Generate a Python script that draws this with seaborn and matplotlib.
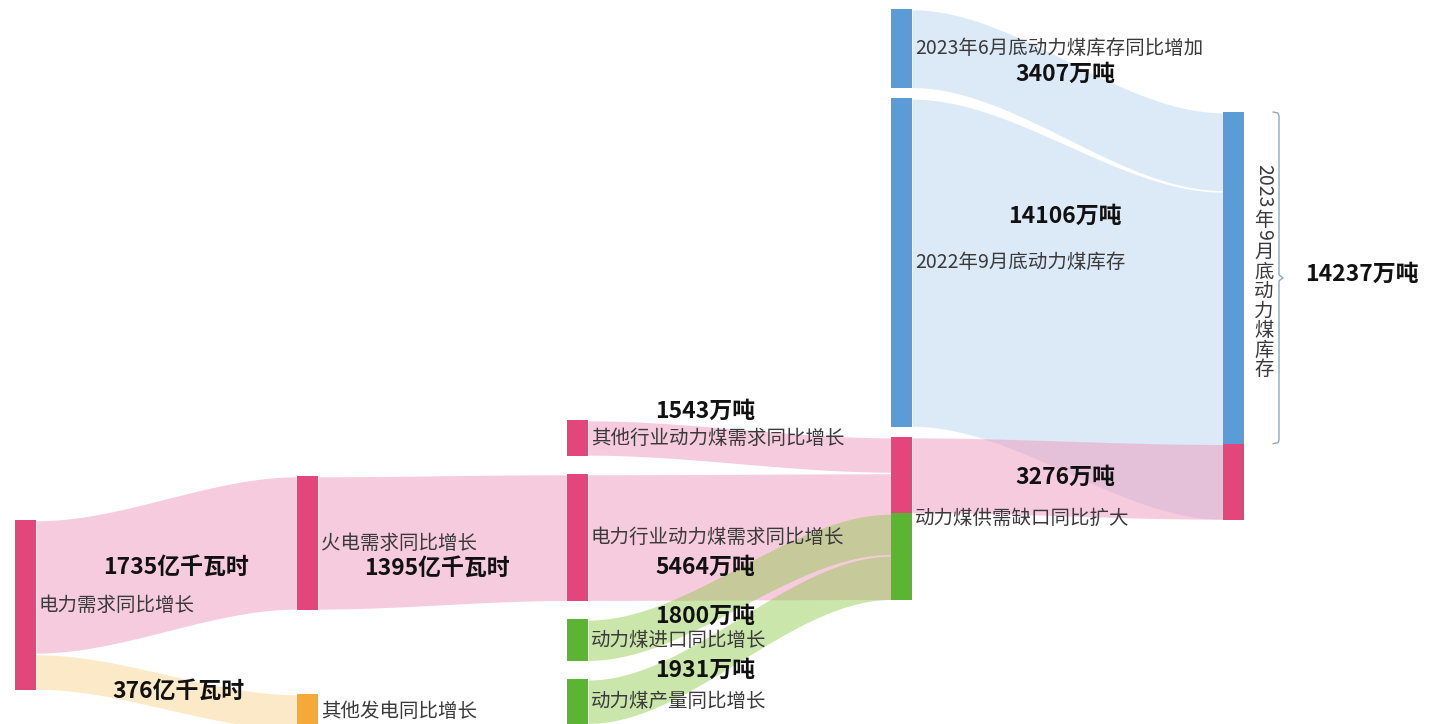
import re
import numpy as np
import matplotlib
matplotlib.use("Agg")
import matplotlib.pyplot as plt
import seaborn as sns

sns.set_theme(style="white")
plt.rcParams['font.family'] = ['Noto Sans CJK SC', 'DejaVu Sans']

# ---- data ----
node_names = ["电力需求同比增长", "火电需求同比增长", "其他发电同比增长",
              "其他行业动力煤需求同比增长", "电力行业动力煤需求同比增长",
              "动力煤进口同比增长", "动力煤产量同比增长",
              "2023年6月底动力煤库存同比增加", "2022年9月底动力煤库存",
              "动力煤供需缺口同比扩大", "2023年9月底动力煤库存"]
node_cols = [0, 1, 1, 2, 2, 2, 2, 3, 3, 3, 4]
node_groups = ["pink", "pink", "orange", "pink", "pink", "green", "green",
               "blue", "blue", "pink", "blue"]

link_src = [0, 0, 1, 3, 4, 5, 6, 7, 8, 9]
link_tgt = [1, 2, 4, 9, 9, 9, 9, 10, 10, 10]
link_out = [1395, 376, 1395, 1543, 5464, 1800, 1931, 3407, 14106, 3276]
link_in = [1395, 376, 5464, 1543, 5464, 1800, 1931, 3407, 14106, 3276]
link_unit_out = ["亿千瓦时"] * 3 + ["万吨"] * 7
link_unit_in = ["亿千瓦时"] * 2 + ["万吨"] * 8
# -1: subtracted from the target (drawn from the bottom of the node)
link_sign = [1, 1, 1, 1, 1, -1, -1, 1, 1, -1]

value_labels = ["1735亿千瓦时", "1395亿千瓦时", "376亿千瓦时", "1543万吨", "5464万吨",
                "1800万吨", "1931万吨", "3407万吨", "14106万吨", "3276万吨"]
total_label = "14237万吨"

# ---- style / layout ----
node_color = {"pink": "#E3467A", "orange": "#F3AA38", "green": "#5BB432", "blue": "#5C9CD6"}
band_style = {"pink": ("#EF99BD", 0.5), "orange": ("#F7B847", 0.3),
              "green": ("#8CC846", 0.45), "blue": ("#5B9BD5", 0.21)}
px_per = {"亿千瓦时": 0.096, "万吨": 0.0233}
col_x = [15, 297, 567, 891, 1223]
col_top = [520, 476, 420, 9, 112]
col_gap = [0, 84, 18, 10, 0]
node_w = 21
label_pos = [(176, 567), (437, 568), (178, 691), (705, 411), (705, 567),
             (705, 616), (705, 670), (1065, 74), (1065, 216), (1065, 477)]

fig = plt.figure(figsize=(14.35, 7.24), dpi=100)
ax = fig.add_axes([0, 0, 1, 1])
ax.set_xlim(0, 1435)
ax.set_ylim(724, 0)
ax.axis("off")

n = len(node_names)
L = len(link_src)
h_in = np.zeros(n)
h_out = np.zeros(n)
for k in range(L):
    h_out[link_src[k]] += link_out[k] * px_per[link_unit_out[k]]
    if link_sign[k] > 0:
        h_in[link_tgt[k]] += link_in[k] * px_per[link_unit_in[k]]
node_h = np.maximum(h_in, h_out)

node_y = np.zeros(n)
for c in range(len(col_x)):
    y = col_top[c]
    for i in range(n):
        if node_cols[i] == c:
            node_y[i] = y
            y += node_h[i] + col_gap[c]

# link end positions
src_pos = [None] * L
tgt_pos = [None] * L
cur_out = node_y.copy()
cur_in = node_y.copy()
cur_neg = node_y + node_h
for k in range(L):
    hs = link_out[k] * px_per[link_unit_out[k]]
    src_pos[k] = (cur_out[link_src[k]], cur_out[link_src[k]] + hs)
    cur_out[link_src[k]] += hs
    if link_sign[k] > 0:
        ht = link_in[k] * px_per[link_unit_in[k]]
        t = link_tgt[k]
        tgt_pos[k] = (cur_in[t], cur_in[t] + ht)
        cur_in[t] += ht
for k in reversed(range(L)):
    if link_sign[k] < 0:
        ht = link_in[k] * px_per[link_unit_in[k]]
        t = link_tgt[k]
        tgt_pos[k] = (cur_neg[t] - ht, cur_neg[t])
        cur_neg[t] -= ht


def band(x0, x1, top0, bot0, top1, bot1, color, alpha):
    xs = np.linspace(x0, x1, 200)
    t = (xs - x0) / (x1 - x0)
    s = t * t * (3 - 2 * t)
    top = top0 + (top1 - top0) * s
    bot = bot0 + (bot1 - bot0) * s
    ax.fill_between(xs, top + 0.8, bot - 0.8, color=color, alpha=alpha, lw=0, zorder=1)


for k in range(L):
    s, t = link_src[k], link_tgt[k]
    # bands take the colour of the node they feed, subtractions keep their own colour
    grp = node_groups[s] if link_sign[k] < 0 else node_groups[t]
    col, a = band_style[grp]
    band(col_x[node_cols[s]] + node_w, col_x[node_cols[t]],
         src_pos[k][0], src_pos[k][1], tgt_pos[k][0], tgt_pos[k][1], col, a)

# nodes
for i in range(n):
    ax.add_patch(plt.Rectangle((col_x[node_cols[i]], node_y[i]), node_w, node_h[i],
                               color=node_color[node_groups[i]], lw=0, zorder=3))
for k in range(L):
    if link_sign[k] < 0:
        t = link_tgt[k]
        y0, y1 = tgt_pos[k]
        ax.add_patch(plt.Rectangle((col_x[node_cols[t]], y0), node_w, y1 - y0,
                                   color=node_color[node_groups[link_src[k]]], lw=0, zorder=4))

# node names
name_kw = dict(fontsize=14, color="#3a3a3a", va="center", ha="left", zorder=6)
last = n - 1
for i in range(n - 1):
    ax.text(col_x[node_cols[i]] + node_w + 3, node_y[i] + node_h[i] / 2, node_names[i], **name_kw)

# final node: vertical text beside the positive part + bracket
neg_h = sum(link_in[k] * px_per[link_unit_in[k]] for k in range(L)
            if link_tgt[k] == last and link_sign[k] < 0)
b_top = node_y[last]
b_bot = node_y[last] + node_h[last] - neg_h
b_mid = (b_top + b_bot) / 2
xr = col_x[4] + node_w


def vertical_text(x, yc, s, size, color):
    runs = re.findall(r"[0-9]+|[^0-9]", s)
    em = size * 100 / 72
    adv = [len(r) * 0.56 * em + 2 if r.isdigit() else 1.0 * em for r in runs]
    y = yc - sum(adv) / 2
    for r, a in zip(runs, adv):
        digit = r.isdigit()
        ax.text(x, y + a / 2 + (0 if digit else 0.12 * em), r, rotation=-90 if digit else 0,
                ha="center", va="center", fontsize=size, color=color, zorder=6)
        y += a


vertical_text(xr + 20, b_mid - 8, node_names[last], 14, "#3a3a3a")
bx = xr + 35
bc = "#8FA6C4"
ax.plot([bx - 6, bx - 1, bx, bx, bx + 4, bx, bx, bx - 1, bx - 6],
        [b_top, b_top + 1, b_top + 4, b_mid - 3, b_mid, b_mid + 3, b_bot - 4, b_bot - 1, b_bot],
        color=bc, lw=1, zorder=5)
ax.text(bx + 26, b_mid - 4, total_label, fontsize=16.5, fontweight="bold", color="#111111",
        ha="left", va="center", zorder=6)

# value labels
for txt, (x, y) in zip(value_labels, label_pos):
    ax.text(x, y, txt, fontsize=16.5, fontweight="bold", color="#111111",
            ha="center", va="center", zorder=7)

fig.savefig("out.png", dpi=100)
